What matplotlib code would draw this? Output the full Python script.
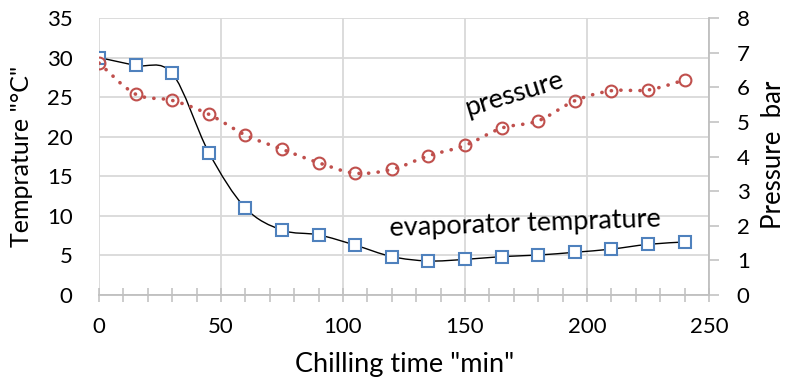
import numpy as np
import matplotlib
matplotlib.use("Agg")
import matplotlib.pyplot as plt
from matplotlib.path import Path
from matplotlib.patches import PathPatch
from matplotlib.ticker import MultipleLocator

plt.rcParams.update({"font.family": "Lato", "font.size": 16})

time_min = [0, 15, 30, 45, 60, 75, 90, 105, 120, 135, 150, 165, 180, 195, 210, 225, 240]
evap_temp = [30.0, 29.0, 28.0, 18.0, 11.0, 8.2, 7.6, 6.3, 4.85, 4.3, 4.5, 4.85, 5.05, 5.4, 5.8, 6.4, 6.7]
pressure = [6.7, 5.8, 5.62, 5.22, 4.62, 4.21, 3.82, 3.52, 3.63, 4.02, 4.32, 4.82, 5.03, 5.61, 5.9, 5.92, 6.21]

GRID = "#D9D9D9"
AXC = "#BFBFBF"
BLUE = "#4F81BD"
RED = "#C0504D"


def smooth_path(xs, ys):
    # Catmull-Rom style bezier through the data points (like Excel's smoothed line)
    p = np.column_stack([xs, ys]).astype(float)
    verts, codes = [p[0]], [Path.MOVETO]
    n = len(p)
    for i in range(n - 1):
        p0 = p[i - 1] if i > 0 else p[i]
        p3 = p[i + 2] if i + 2 < n else p[i + 1]
        c1 = p[i] + (p[i + 1] - p0) / 6
        c2 = p[i + 1] - (p3 - p[i]) / 6
        verts += [c1, c2, p[i + 1]]
        codes += [Path.CURVE4] * 3
    return Path(verts, codes)


fig = plt.figure(figsize=(7.89, 3.87), dpi=100)
ax = fig.add_axes([0.1255, 0.2377, 0.7731, 0.7158])
ax2 = ax.twinx()

ax.set_xlim(0, 250)
ax.set_ylim(0, 35)
ax2.set_ylim(0, 8)
ax.xaxis.set_major_locator(MultipleLocator(50))
ax.xaxis.set_minor_locator(MultipleLocator(10))
ax.yaxis.set_major_locator(MultipleLocator(5))
ax2.yaxis.set_major_locator(MultipleLocator(1))
ax.grid(True, which="major", color=GRID, lw=1.3)
ax.set_axisbelow(True)

for s in ["top", "left"]:
    ax.spines[s].set_visible(False)
    ax2.spines[s].set_visible(False)
ax2.spines["bottom"].set_visible(False)
ax.spines["right"].set_visible(False)
ax.spines["bottom"].set_color(AXC)
ax.spines["bottom"].set_linewidth(1.3)
ax2.spines["right"].set_color(AXC)
ax2.spines["right"].set_linewidth(1.3)

ax.tick_params(axis="x", which="both", direction="inout", length=10, width=1.1,
               color=AXC, pad=11)
ax.tick_params(axis="y", length=0, pad=19)
ax2.tick_params(axis="y", direction="out", length=7, width=1.1, color=AXC, pad=13)

# temperature: thin black smoothed line + open blue squares
ax.add_patch(PathPatch(smooth_path(time_min, evap_temp), fc="none", ec="black", lw=1.0, zorder=3))
ax.plot(time_min, evap_temp, ls="none", marker="s", ms=8, mfc="white", mec=BLUE, mew=1.5, zorder=4)

# pressure: dotted red smoothed line + open red circles
ax2.plot(time_min, pressure, ls="none", marker="o", ms=8.5, mfc="none", mec=RED, mew=1.5, zorder=3)
ax2.add_patch(PathPatch(smooth_path(time_min, pressure), fc="none", ec=RED, lw=2.6,
                        ls=(0, (0.05, 2.6)), capstyle="round", zorder=4))

ax.set_xlabel('Chilling time "min"', fontsize=19.5)
ax.set_ylabel('Temprature "°C"', fontsize=18)
ax2.set_ylabel("Pressure  bar", fontsize=18.5)
ax.xaxis.set_label_coords(0.5016, -0.205)
ax.yaxis.set_label_coords(-0.108, 0.5)
ax2.yaxis.set_label_coords(1.086, 0.505)

ax2.text(170, 5.8, "pressure", rotation=17, ha="center", va="center", fontsize=19.5)
ax.text(174.6, 9.0, "evaporator temprature", rotation=2, ha="center", va="center", fontsize=19.5)

fig.savefig("out.png", dpi=100)
